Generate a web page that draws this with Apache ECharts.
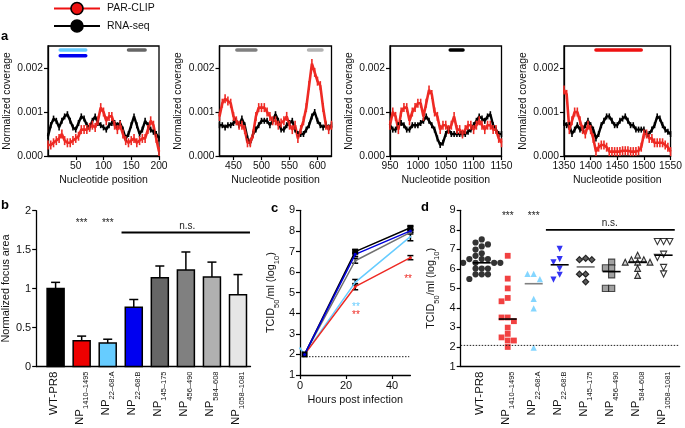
<!DOCTYPE html>
<html><head><meta charset="utf-8">
<script src="https://cdn.jsdelivr.net/npm/echarts@6/dist/echarts.min.js"></script>
<style>html,body{margin:0;padding:0;background:#fff}#c{width:685px;height:428px}</style>
</head><body><div id="c"></div>
<script>
// ---------------- DATA ----------------
// Panel a: coverage, sampled every 5 nt from each window start
const aStarts = [0, 425, 950, 1350];
const aEnds = [200, 625, 1150, 1550];
const aStep = 5;
const aXTicks1 = [50, 100, 150, 200];
const aXTicks2 = [450, 500, 550, 600];
const aXTicks3 = [950, 1000, 1050, 1100, 1150];
const aXTicks4 = [1350, 1400, 1450, 1500, 1550];
const aYTicks = [0, 0.001, 0.002];

const rnaseq1 = [0.00045,0.0007,0.00085,0.0008,0.00065,0.0008,0.0009,0.00095,0.0008,0.00065,0.0006,0.00075,0.0009,0.00085,0.0007,0.00065,0.0008,0.0009,0.00075,0.0007,0.00065,0.0006,0.0007,0.00075,0.00075,0.0007,0.00075,0.0006,0.0004,0.0005,0.0007,0.0009,0.0007,0.0005,0.0006,0.0008,0.0007,0.0006,0.00055,0.0005,0.0004];
const parclip1 = [0.00025,0.00025,0.0003,0.00035,0.0004,0.0005,0.00035,0.0003,0.0003,0.00035,0.0004,0.00045,0.0006,0.0006,0.0006,0.00065,0.0007,0.00065,0.0008,0.0011,0.001,0.0008,0.0009,0.0009,0.0007,0.0006,0.0007,0.0005,0.00035,0.0003,0.00035,0.0004,0.0003,0.00035,0.0004,0.0004,0.0006,0.0008,0.0007,0.0004,0.0001];
const rnaseq2 = [0.0007,0.0007,0.00065,0.0007,0.0007,0.00075,0.0008,0.0007,0.00085,0.0007,0.0004,0.0003,0.0005,0.0006,0.0007,0.0008,0.0008,0.0008,0.0007,0.0008,0.00095,0.0008,0.0006,0.0006,0.0007,0.00075,0.0008,0.0006,0.0005,0.0005,0.0005,0.0006,0.0007,0.0009,0.001,0.0008,0.0007,0.00065,0.0007,0.00065,0.0007];
const parclip2 = [0.0009,0.0012,0.0013,0.00125,0.0012,0.0009,0.0008,0.0007,0.0007,0.0006,0.0003,0.0003,0.0005,0.0009,0.0011,0.0011,0.0011,0.001,0.0009,0.0008,0.0008,0.0007,0.00075,0.0008,0.0009,0.0007,0.0006,0.0007,0.0004,0.0006,0.0008,0.0011,0.0016,0.0021,0.0019,0.0017,0.0016,0.0011,0.0007,0.0006,0.0007];
const rnaseq3 = [0.0007,0.0006,0.0006,0.0007,0.00075,0.0007,0.0006,0.0006,0.0007,0.0007,0.0007,0.00075,0.0008,0.0009,0.0008,0.0007,0.0006,0.0004,0.00025,0.0003,0.0005,0.0006,0.0005,0.0005,0.0005,0.0005,0.0005,0.0005,0.00055,0.0006,0.0007,0.0008,0.0009,0.00085,0.0008,0.0009,0.00095,0.0007,0.0006,0.0005,0.0005];
const parclip3 = [0.0007,0.001,0.0009,0.0006,0.001,0.0011,0.0011,0.0008,0.001,0.0011,0.0012,0.0012,0.0009,0.0012,0.0015,0.0014,0.001,0.0009,0.0006,0.0007,0.0007,0.0006,0.0007,0.0009,0.0006,0.0006,0.0005,0.0006,0.0007,0.0007,0.0006,0.0007,0.0008,0.0007,0.0006,0.0007,0.0007,0.0006,0.0006,0.0004,0.0003];
const rnaseq4 = [0.00075,0.0007,0.0007,0.0005,0.0006,0.0007,0.0006,0.0006,0.0007,0.0008,0.0007,0.0006,0.0004,0.0005,0.0007,0.0008,0.0009,0.0009,0.0008,0.0007,0.0007,0.0008,0.00085,0.0009,0.0008,0.0007,0.0007,0.0006,0.0006,0.0006,0.0006,0.0005,0.0005,0.0006,0.0007,0.0009,0.00085,0.0007,0.0006,0.00055,0.0005];
const parclip4 = [0.0015,0.0014,0.0006,0.0008,0.001,0.001,0.0008,0.0006,0.0005,0.0007,0.0006,0.0004,0.0001,0.0002,0.00025,0.00025,0.0002,0.0001,0.0001,0.0001,0.0001,0.0001,0.00012,0.00012,0.00012,0.0001,0.0001,0.0001,0.00012,0.0002,0.0005,0.0005,0.0004,0.0004,0.0003,0.0003,0.0003,0.0003,0.00025,0.0002,0.0001];

// mutated regions shown above panel a
const regionStart = [22, 22, 145, 456, 584, 1058, 1410];
const regionEnd = [68, 68, 175, 490, 608, 1081, 1495];

// Panels b & d categories
const catMain = ['WT-PR8', 'NP', 'NP', 'NP', 'NP', 'NP', 'NP', 'NP'];
const catSub = ['', '1410–1495', '22–68:A', '22–68:B', '145–175', '456–490', '584–608', '1058–1081'];

// Panel b
const focusArea = [1.0, 0.33, 0.30, 0.76, 1.14, 1.24, 1.15, 0.92];
const focusErr = [0.08, 0.06, 0.05, 0.10, 0.15, 0.23, 0.19, 0.26];

// Panel c
const hours = [2, 24, 48];
const hoursA = [0, 2, 24, 48];
const cWT = [2, 6.99, 8.15];
const cWTerr = [0, 0.1, 0.08];
const cB = [2, 6.86, 8.0];
const cBerr = [0, 0.1, 0.06];
const cGray = [2, 6.55, 7.93];
const cGrayErr = [0, 0.12, 0.08];
const cA = [2.3, 2, 5.5, 7.72];
const cAerr = [0, 0, 0.14, 0.2];
const cRed = [2, 5.29, 6.70];
const cRedErr = [0, 0.15, 0.1];
const cLimit = 1.89;

// Panel d
const dWT = [7.51, 7.35, 7.25, 7.15, 6.99, 6.8, 6.67, 6.5, 6.5, 6.5, 6.31, 6.31, 6.31, 6.31, 6.02, 6.02, 6.02, 5.72, 5.72, 5.72, 5.48];
const d1410 = [6.67, 5.5, 5.0, 4.51, 4.34, 3.51, 3.51, 3.32, 2.99, 2.67, 2.49, 2.33, 2.33, 2.0];
const d22A = [5.74, 5.74, 5.47, 4.46, 3.98, 1.97];
const d22B = [7.02, 6.5, 6.34, 6.02, 5.7, 5.45];
const d145 = [6.54, 6.47, 6.47, 5.73, 5.73, 5.34];
const d456 = [6.34, 6.05, 6.05, 5.7, 5.0, 5.0];
const d584 = [6.7, 6.47, 6.47, 6.34, 6.34, 6.34, 6.02, 5.66];
const d1058 = [7.4, 7.4, 7.4, 6.75, 6.59, 6.07, 5.74];
const dCenter = [6.31, 3.43, 5.24, 6.21, 6.10, 5.86, 6.35, 6.70];
const dLimit = 2.08;

// ---------------- STYLE / LAYOUT ----------------
const FONT = 'Liberation Sans, Arial, Helvetica, sans-serif';
const RED = '#ee2a24', LBLUE = '#66ccff', BLUE = '#0000f0';
const barColors = ['#000000', '#ee0000', LBLUE, BLUE, '#666666', '#808080', '#b0b0b0', '#e6e6e6'];
const regionColors = [LBLUE, BLUE, '#666666', '#808080', '#b3b3b3', '#000000', '#ee1111'];
const regionY = [0.00241, 0.00228, 0.00241, 0.00241, 0.00241, 0.00241, 0.00241];

const grids = [
  {left: 48, top: 46, width: 111, height: 110},
  {left: 219.5, top: 46, width: 112, height: 110},
  {left: 390, top: 46, width: 111.5, height: 110},
  {left: 564, top: 46, width: 111, height: 110},
  {left: 33, top: 210.7, width: 217.5, height: 163.6},
  {left: 300, top: 210.3, width: 110.4, height: 164.7},
  {left: 460.7, top: 210.3, width: 219, height: 164.7}
];
grids.forEach((g, i) => {
  g.containLabel = false;
  if (i < 4) { g.show = true; g.borderColor = '#000'; g.borderWidth = 1.3; }
});

const lineSty = {lineStyle: {color: '#000', width: 1.3}, onZero: false};
const tickSty = {show: true, inside: false, length: 4, lineStyle: {color: '#000', width: 1.2}};
const labSty = (fs) => ({color: '#111', fontFamily: FONT, fontSize: fs});

const xAxes = [], yAxes = [];
const aXT = [aXTicks1, aXTicks2, aXTicks3, aXTicks4];
for (let k = 0; k < 4; k++) {
  xAxes.push({gridIndex: k, type: 'value', min: aStarts[k], max: aEnds[k],
    axisLine: lineSty, axisTick: Object.assign({customValues: aXT[k]}, tickSty),
    axisLabel: Object.assign({customValues: aXT[k], margin: 5, formatter: v => String(v)}, labSty(10.3)),
    splitLine: {show: false},
    name: 'Nucleotide position', nameLocation: 'middle', nameGap: 19,
    nameTextStyle: labSty(10.5)});
  yAxes.push({gridIndex: k, type: 'value', min: 0, max: 0.0025,
    axisLine: lineSty, axisTick: Object.assign({customValues: aYTicks}, tickSty),
    axisLabel: Object.assign({customValues: aYTicks, margin: 5, formatter: v => v.toFixed(3)}, labSty(10.3)),
    splitLine: {show: false},
    name: 'Normalized coverage', nameLocation: 'middle', nameGap: 36,
    nameTextStyle: labSty(10.3)});
}
const catRich = {
  m: {fontSize: 11.5, fontFamily: FONT, color: '#111', lineHeight: 16, verticalAlign: 'top'},
  s: {fontSize: 7.5, fontFamily: FONT, color: '#111', lineHeight: 16, verticalAlign: 'bottom'}
};
const catFmt = v => {
  const i = Math.round(v);
  return catSub[i] ? '{m|' + catMain[i] + '}{s|' + catSub[i] + '}' : '{m|' + catMain[i] + '}';
};
const catIdx = catMain.map((_, i) => i);
// b
xAxes.push({gridIndex: 4, type: 'value', min: -0.745, max: 7.48,
  axisLine: lineSty, axisTick: {show: false}, splitLine: {show: false},
  axisLabel: {customValues: catIdx, rotate: 90, margin: 5, formatter: catFmt, rich: catRich}});
yAxes.push({gridIndex: 4, type: 'value', min: 0, max: 2, interval: 0.5,
  axisLine: lineSty, axisTick: tickSty, splitLine: {show: false},
  axisLabel: Object.assign({margin: 5}, labSty(11)),
  name: 'Normalized focus area', nameLocation: 'middle', nameGap: 21, nameTextStyle: labSty(10.8)});
// c
const tcidName = {
  name: '{m|TCID}{s|50}{m|/ml (log}{s|10}{m|)}', nameLocation: 'middle', nameGap: 19,
  nameTextStyle: {rich: {
    m: {fontSize: 10.8, fontFamily: FONT, color: '#111', lineHeight: 15, verticalAlign: 'top'},
    s: {fontSize: 7.5, fontFamily: FONT, color: '#111', lineHeight: 15, verticalAlign: 'bottom'}}}
};
xAxes.push({gridIndex: 5, type: 'value', min: 0, max: 48,
  axisLine: lineSty, axisTick: Object.assign({customValues: [0, 20, 40]}, tickSty), splitLine: {show: false},
  axisLabel: Object.assign({customValues: [0, 20, 40], margin: 5}, labSty(11)),
  name: 'Hours post infection', nameLocation: 'middle', nameGap: 20, nameTextStyle: labSty(10.8)});
yAxes.push(Object.assign({gridIndex: 5, type: 'value', min: 1, max: 9, interval: 1,
  axisLine: lineSty, axisTick: tickSty, splitLine: {show: false},
  axisLabel: Object.assign({margin: 5}, labSty(11))}, tcidName));
// d
xAxes.push({gridIndex: 6, type: 'value', min: -0.81, max: 7.62,
  axisLine: lineSty, axisTick: {show: false}, splitLine: {show: false},
  axisLabel: {customValues: catIdx, rotate: 90, margin: 5, formatter: catFmt, rich: catRich}});
yAxes.push(Object.assign({gridIndex: 6, type: 'value', min: 1, max: 9, interval: 1,
  axisLine: lineSty, axisTick: tickSty, splitLine: {show: false},
  axisLabel: Object.assign({margin: 5}, labSty(11))}, tcidName, {nameGap: 20}));

// ---------------- SERIES ----------------
const series = [];
const rnaseq = [rnaseq1, rnaseq2, rnaseq3, rnaseq4];
const parclip = [parclip1, parclip2, parclip3, parclip4];
for (let k = 0; k < 4; k++) {
  series.push({type: 'line', xAxisIndex: k, yAxisIndex: k, silent: true,
    data: rnaseq[k].map((v, i) => [aStarts[k] + i * aStep, v]),
    lineStyle: {color: '#000', width: 2.4}, symbol: 'rect', symbolSize: [1.6, 6],
    itemStyle: {color: '#000'}});
  series.push({type: 'line', xAxisIndex: k, yAxisIndex: k, silent: true,
    data: parclip[k].map((v, i) => [aStarts[k] + i * aStep, v]),
    lineStyle: {color: RED, width: 2.6}, symbol: 'rect', symbolSize: [1.6, 9],
    itemStyle: {color: RED}});
}
regionStart.forEach((s, r) => {
  const k = aStarts.findIndex((st, j) => s >= st && regionEnd[r] <= aEnds[j]);
  series.push({type: 'line', xAxisIndex: k, yAxisIndex: k, silent: true, symbol: 'none',
    data: [[s, regionY[r]], [regionEnd[r], regionY[r]]],
    lineStyle: {color: regionColors[r], width: 3.5, cap: 'round'}});
});

// b: bars + error bars
series.push({type: 'custom', xAxisIndex: 4, yAxisIndex: 4, silent: true,
  data: focusArea.map((v, i) => [i, v, focusErr[i]]),
  renderItem: (params, api) => {
    const i = api.value(0), v = api.value(1), e = api.value(2);
    const p0 = api.coord([i, 0]), p1 = api.coord([i, v]), p2 = api.coord([i, v + e]);
    const w = 17;
    return {type: 'group', children: [
      {type: 'line', shape: {x1: p1[0], y1: p1[1], x2: p2[0], y2: p2[1]}, style: {stroke: '#000', lineWidth: 1.5}},
      {type: 'line', shape: {x1: p2[0] - 4.5, y1: p2[1], x2: p2[0] + 4.5, y2: p2[1]}, style: {stroke: '#000', lineWidth: 1.5}},
      {type: 'rect', shape: {x: p0[0] - w / 2, y: p1[1], width: w, height: p0[1] - p1[1]},
        style: {fill: barColors[params.dataIndex], stroke: '#000', lineWidth: 1.5}}
    ]};
  }});

// annotations (text)
function textSeries(xi, items, color, fs) {
  return {type: 'custom', xAxisIndex: xi, yAxisIndex: xi, silent: true,
    data: items.map(t => [t[0], t[1]]),
    renderItem: (params, api) => {
      const p = api.coord([api.value(0), api.value(1)]);
      return {type: 'text', style: {text: items[params.dataIndex][2], x: p[0], y: p[1],
        align: 'center', verticalAlign: 'middle', fill: color, font: fs + 'px ' + FONT}};
    }};
}
function hline(xi, x0, x1, y, style) {
  return {type: 'line', xAxisIndex: xi, yAxisIndex: xi, silent: true, symbol: 'none',
    data: [[x0, y], [x1, y]], lineStyle: style};
}
series.push(textSeries(4, [[1, 1.84, '***'], [2, 1.84, '***'], [5.05, 1.8, 'n.s.']], '#222', 10));
series.push(hline(4, 2.53, 7.46, 1.72, {color: '#000', width: 1.8}));

// c: lines
function errSeries(xi, xs, ys, es, color) {
  return {type: 'custom', xAxisIndex: xi, yAxisIndex: xi, silent: true,
    data: xs.map((x, i) => [x, ys[i] - es[i], ys[i] + es[i]]).filter((d, i) => es[i] > 0),
    renderItem: (params, api) => {
      const a = api.coord([api.value(0), api.value(1)]), b = api.coord([api.value(0), api.value(2)]);
      const st = {stroke: color, lineWidth: 1.5};
      return {type: 'group', children: [
        {type: 'line', shape: {x1: a[0], y1: a[1], x2: b[0], y2: b[1]}, style: st},
        {type: 'line', shape: {x1: a[0] - 3, y1: a[1], x2: a[0] + 3, y2: a[1]}, style: st},
        {type: 'line', shape: {x1: b[0] - 3, y1: b[1], x2: b[0] + 3, y2: b[1]}, style: st}]};
    }};
}
series.push(hline(5, 0, 47.5, cLimit, {color: '#222', width: 1, type: [1.5, 1.5]}));
const cSets = [
  [hours, cGray, cGrayErr, '#707070', 'circle', 3],
  [hoursA, cA, cAerr, LBLUE, 'circle', 2],
  [hours, cRed, cRedErr, RED, 'circle', 3],
  [hours, cWT, cWTerr, '#000', 'rect', 6],
  [hours, cB, cBerr, '#0000dd', 'circle', 3]
];
cSets.forEach(s => {
  series.push({type: 'line', xAxisIndex: 5, yAxisIndex: 5, silent: true,
    data: s[0].map((x, i) => [x, s[1][i]]),
    lineStyle: {color: s[3], width: 1.5}, symbol: s[4], symbolSize: s[5], itemStyle: {color: s[3]}});
});
cSets.forEach(s => series.push(errSeries(5, s[0], s[1], s[2], '#000')));
series.push(textSeries(5, [[24.3, 4.29, '**']], LBLUE, 10));
series.push(textSeries(5, [[24.3, 3.88, '**'], [47, 5.65, '**']], RED, 10));

// d: scatter with a simple beeswarm layout
function swarm(vals, ptSize) {
  const pxX = 26, pxY = 20.59, step = 6.2;
  const placed = [];
  const order = vals.map((v, j) => j).sort((a, b) => vals[b] - vals[a]);
  const out = new Array(vals.length);
  order.forEach(j => {
    const y = vals[j] * pxY;
    for (let k = 0; k < 30; k++) {
      const off = (k === 0 ? 0 : (k % 2 ? -1 : 1) * Math.ceil(k / 2)) * step;
      if (placed.every(p => Math.hypot(p[0] - off, p[1] - y) >= ptSize)) {
        placed.push([off, y]); out[j] = off / pxX; break;
      }
    }
  });
  return out;
}
const dSets = [
  [dWT, 'circle', 6.2, '#000', '#000'],
  [d1410, 'rect', 5.8, '#ee1111', '#ee1111'],
  [d22A, 'triangle', 6.2, LBLUE, LBLUE],
  [d22B, 'path://M0,0L10,0L5,9Z', 6.2, BLUE, BLUE],
  [d145, 'diamond', 6.2, '#333', '#000'],
  [d456, 'rect', 6.2, '#8a8a8a', '#222'],
  [d584, 'triangle', 5.8, '#c8c8c8', '#000'],
  [d1058, 'path://M0,0L10,0L5,9Z', 6.2, '#fff', '#000']
];
const centerColors = ['#000', '#000', '#808080', '#000', '#707070', '#000', '#000', '#000'];
dSets.forEach((s, i) => {
  const offs = swarm(s[0], s[2] - 0.3);
  series.push({type: 'scatter', xAxisIndex: 6, yAxisIndex: 6, silent: true,
    data: s[0].map((v, j) => [i + offs[j], v]),
    symbol: s[1], symbolSize: s[2],
    itemStyle: {color: s[3], borderColor: s[4], borderWidth: s[4] === s[3] ? 0 : 1.1}});
});
series.push({type: 'custom', xAxisIndex: 6, yAxisIndex: 6, silent: true, z: 5,
  data: dCenter.map((v, i) => [i, v]),
  renderItem: (params, api) => {
    const p = api.coord([api.value(0), api.value(1)]);
    return {type: 'line', shape: {x1: p[0] - 9, y1: p[1], x2: p[0] + 9, y2: p[1]},
      style: {stroke: centerColors[params.dataIndex], lineWidth: 1.6}};
  }});
series.push(hline(6, -0.81, 7.6, dLimit, {color: '#222', width: 1, type: [1.5, 1.5]}));
series.push(hline(6, 2.47, 7.43, 8.0, {color: '#000', width: 1.8}));
series.push(textSeries(6, [[1, 8.69, '***'], [2, 8.69, '***'], [4.93, 8.33, 'n.s.']], '#222', 10));

// ---------------- GRAPHICS (legend + panel letters) ----------------
const graphic = [
  {type: 'line', shape: {x1: 54, y1: 8.5, x2: 100, y2: 8.5}, style: {stroke: '#ee1111', lineWidth: 2}},
  {type: 'circle', shape: {cx: 77, cy: 8.5, r: 6}, style: {fill: '#ee1111', stroke: '#000', lineWidth: 1.6}},
  {type: 'text', style: {text: 'PAR-CLIP', x: 107, y: 8.5, verticalAlign: 'middle', font: '10.5px ' + FONT, fill: '#111'}},
  {type: 'line', shape: {x1: 54, y1: 26, x2: 100, y2: 26}, style: {stroke: '#000', lineWidth: 2}},
  {type: 'circle', shape: {cx: 77, cy: 26, r: 6}, style: {fill: '#000', stroke: '#000', lineWidth: 1.6}},
  {type: 'text', style: {text: 'RNA-seq', x: 107, y: 26, verticalAlign: 'middle', font: '10.5px ' + FONT, fill: '#111'}},
  {type: 'text', style: {text: 'a', x: 1, y: 36, verticalAlign: 'middle', font: 'bold 13px ' + FONT, fill: '#000'}},
  {type: 'text', style: {text: 'b', x: 1, y: 205, verticalAlign: 'middle', font: 'bold 13px ' + FONT, fill: '#000'}},
  {type: 'text', style: {text: 'c', x: 271, y: 208, verticalAlign: 'middle', font: 'bold 13px ' + FONT, fill: '#000'}},
  {type: 'text', style: {text: 'd', x: 421, y: 207, verticalAlign: 'middle', font: 'bold 13px ' + FONT, fill: '#000'}}
];

const chart = echarts.init(document.getElementById('c'), null, {renderer: 'canvas'});
chart.setOption({animation: false, backgroundColor: '#fff', grid: grids, xAxis: xAxes, yAxis: yAxes, series, graphic});
</script></body></html>
